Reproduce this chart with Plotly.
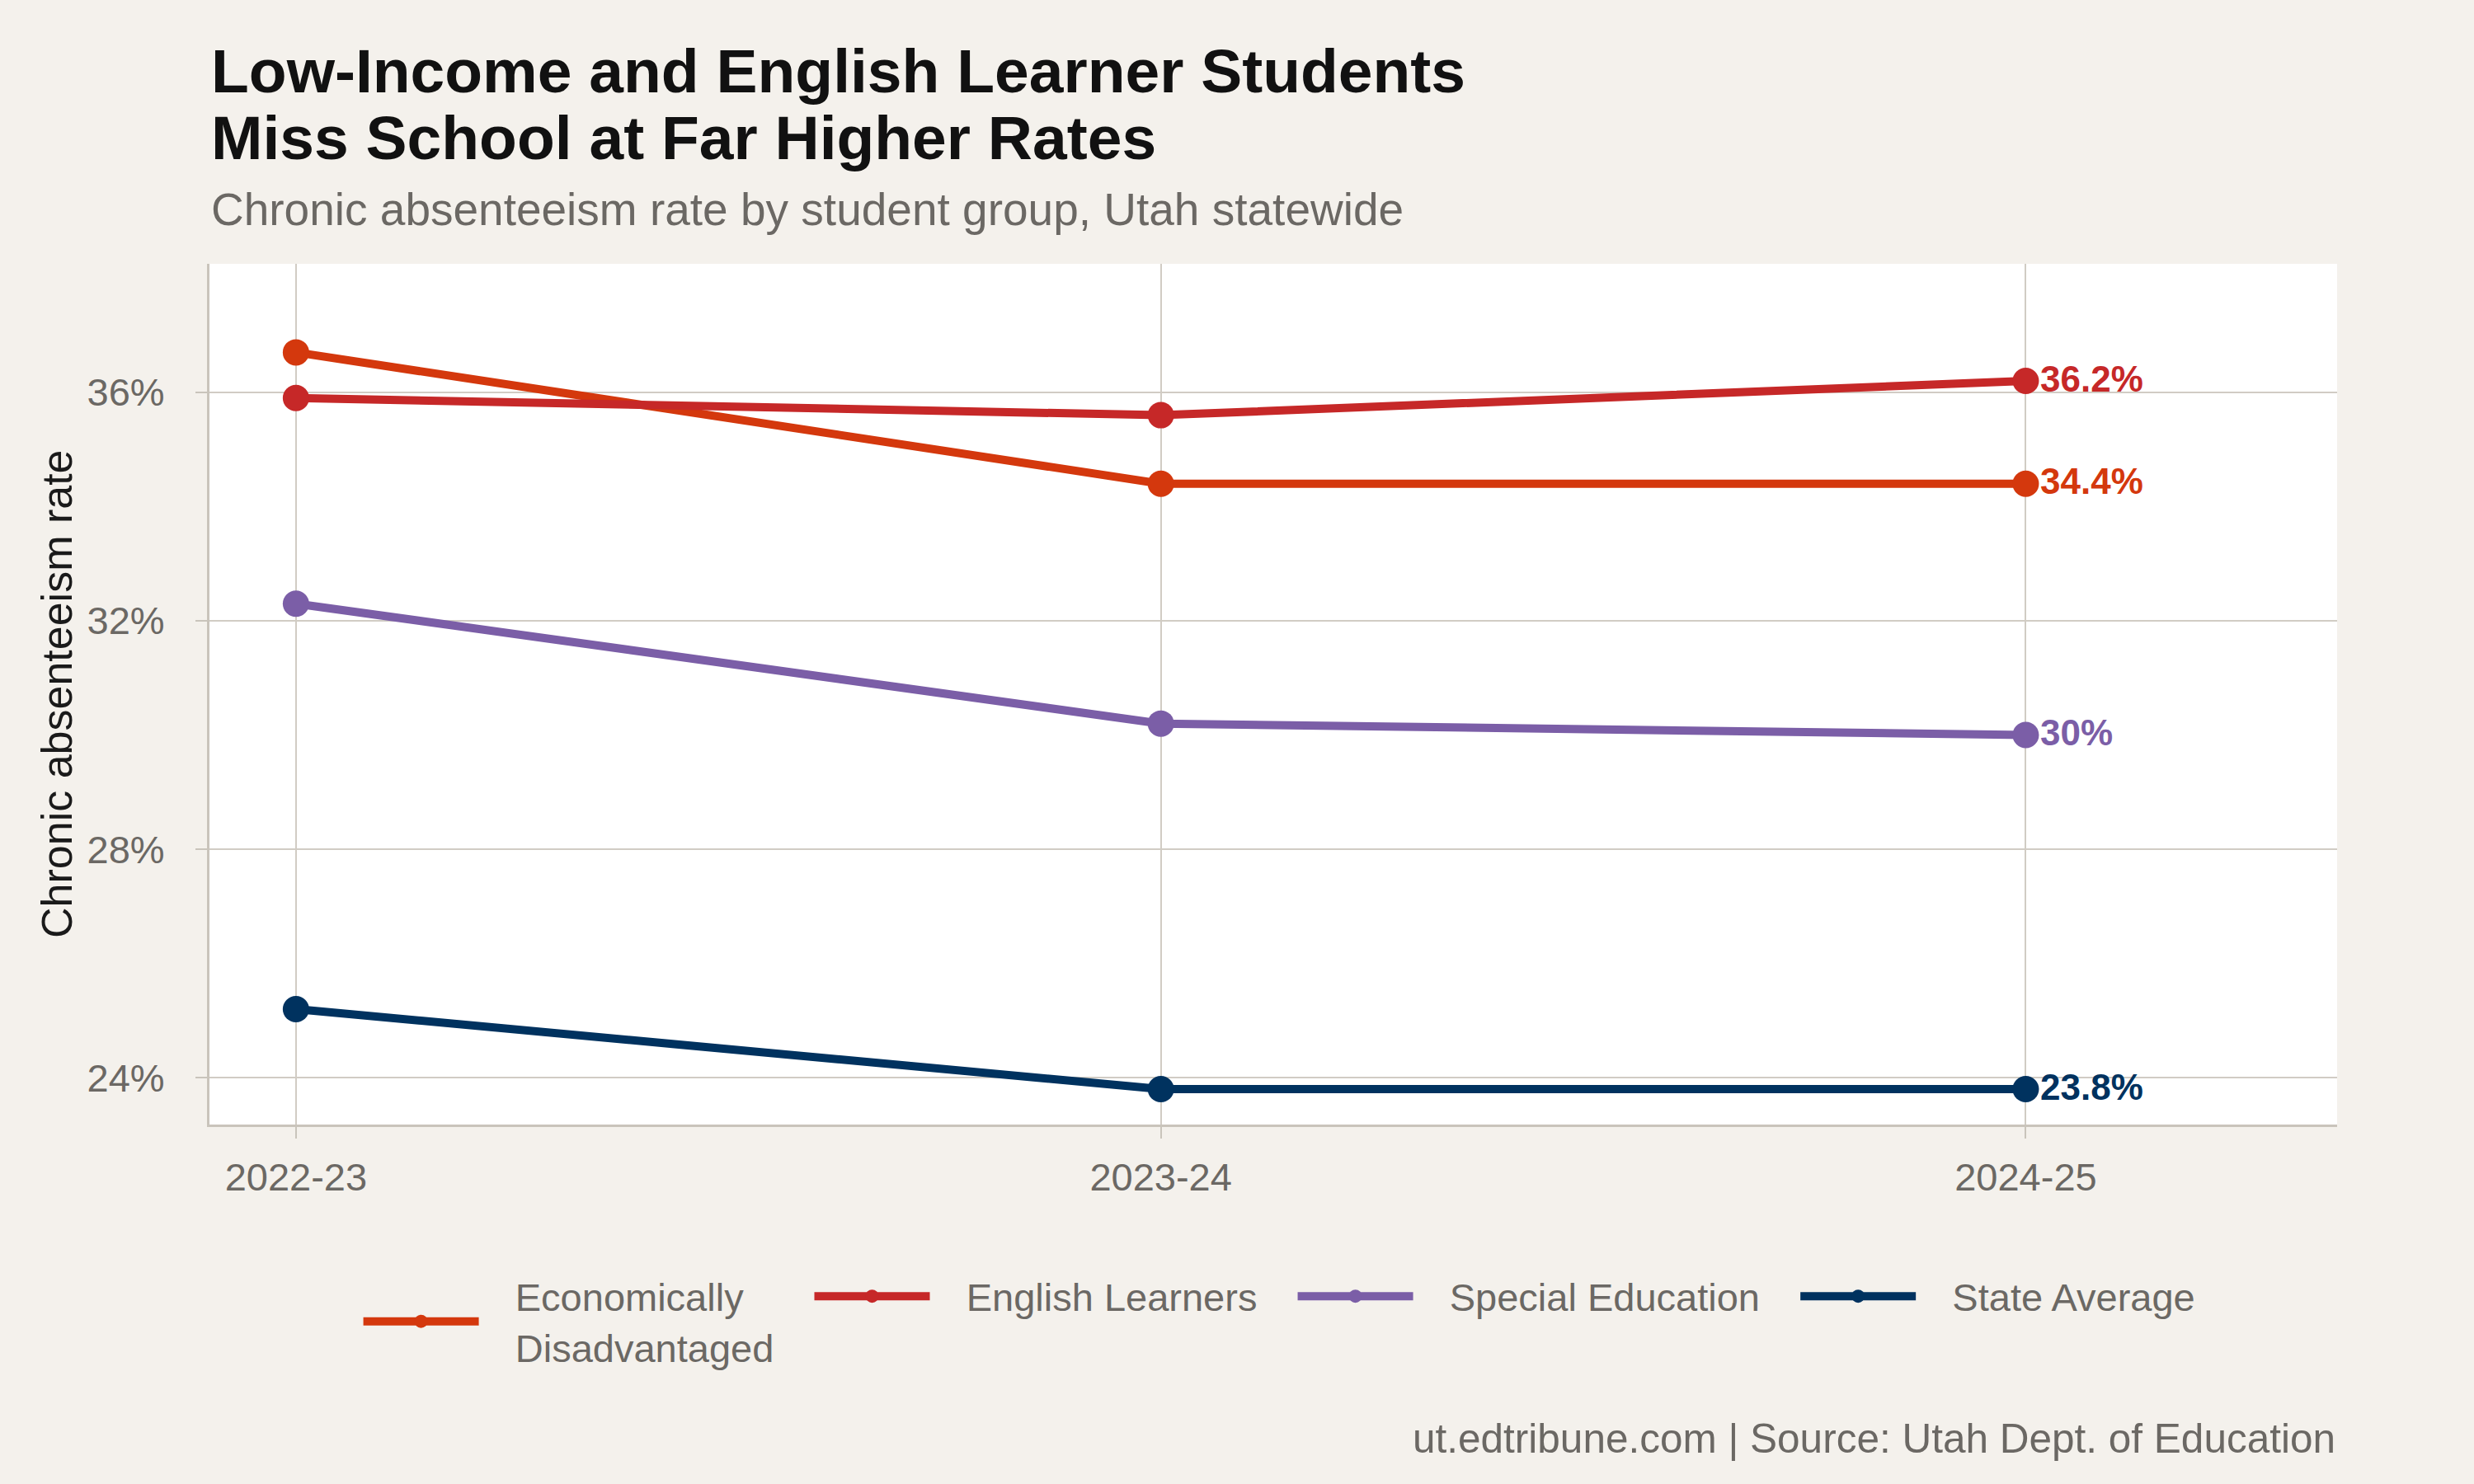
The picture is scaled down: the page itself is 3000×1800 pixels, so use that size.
import plotly.graph_objects as go

years = ["2022-23", "2023-24", "2024-25"]
series_names = ["Economically Disadvantaged", "English Learners", "Special Education", "State Average"]
legend_lines = [["Economically", "Disadvantaged"], ["English Learners"], ["Special Education"], ["State Average"]]
econ = [36.7, 34.4, 34.4]
english = [35.9, 35.6, 36.2]
sped = [32.3, 30.2, 30.0]
state = [25.2, 23.8, 23.8]
end_labels = ["34.4%", "36.2%", "30%", "23.8%"]
colors = ["#D4380D", "#C62828", "#7B5EA7", "#00325F"]
y_ticks = [24, 28, 32, 36]
y_ticktext = ["24%", "28%", "32%", "36%"]

values = [econ, english, sped, state]
FONT = "Liberation Sans, Arial, Helvetica, sans-serif"
BG = "#F4F1EC"
GRID = "#D1CCC4"
GRAY = "#6B6864"
PAD = "&nbsp;" * 3


def legend_name(lines):
    txt = "<br>".join(PAD + ln for ln in lines)
    return txt + PAD


fig = go.Figure()
for name, lines, vals, col in zip(series_names, legend_lines, values, colors):
    fig.add_trace(go.Scatter(
        x=years, y=vals, mode="lines+markers", name=legend_name(lines),
        line=dict(color=col, width=10),
        marker=dict(color=col, size=32),
    ))

annotations = []
for vals, col, lab in zip(values, colors, end_labels):
    annotations.append(dict(
        x=years[-1], y=vals[-1], xref="x", yref="y", text="<b>" + lab + "</b>",
        showarrow=False, xanchor="left", yanchor="middle", xshift=16, yshift=3,
        font=dict(family=FONT, size=44, color=col),
    ))

annotations += [
    dict(x=0, y=1.2241, xref="paper", yref="paper", xanchor="left", yanchor="middle",
         text="<b>Low-Income and English Learner Students</b>", showarrow=False,
         font=dict(family=FONT, size=75, color="#111111")),
    dict(x=0, y=1.1466, xref="paper", yref="paper", xanchor="left", yanchor="middle",
         text="<b>Miss School at Far Higher Rates</b>", showarrow=False,
         font=dict(family=FONT, size=75, color="#111111")),
    dict(x=0, y=1.0632, xref="paper", yref="paper", xanchor="left", yanchor="middle",
         text="Chronic absenteeism rate by student group, Utah statewide", showarrow=False,
         font=dict(family=FONT, size=55, color=GRAY)),
    dict(x=1, y=-0.3649, xref="paper", yref="paper", xanchor="right", yanchor="middle",
         text="ut.edtribune.com | Source: Utah Dept. of Education", showarrow=False,
         font=dict(family=FONT, size=49.5, color=GRAY)),
    dict(x=0, y=0.5, xref="paper", yref="paper", xanchor="center", yanchor="middle",
         xshift=-185, textangle=-90, text="Chronic absenteeism rate", showarrow=False,
         font=dict(family=FONT, size=52, color="#1A1A1A")),
]

fig.update_layout(
    width=3000, height=1800,
    paper_bgcolor=BG, plot_bgcolor="#FFFFFF",
    margin=dict(l=254, r=166, t=320, b=436),
    showlegend=True,
    legend=dict(
        orientation="h", x=0.5105, xanchor="center", y=-0.229, yanchor="middle",
        font=dict(family=FONT, size=47, color=GRAY), bgcolor="rgba(0,0,0,0)",
        itemwidth=140, tracegroupgap=0,
    ),
    annotations=annotations,
    xaxis=dict(
        type="category", range=[-0.1, 2.36], showgrid=True, gridcolor=GRID, gridwidth=2,
        showline=True, linecolor="#C9C4BB", linewidth=3,
        ticks="outside", ticklen=14, tickwidth=2, tickcolor="#C9C4BB",
        tickfont=dict(family=FONT, size=47, color=GRAY), ticklabelstandoff=7,
        zeroline=False,
    ),
    yaxis=dict(
        range=[23.18, 38.25], tickvals=y_ticks, ticktext=y_ticktext,
        showgrid=True, gridcolor=GRID, gridwidth=2,
        showline=True, linecolor="#C9C4BB", linewidth=3,
        ticks="outside", ticklen=14, tickwidth=2, tickcolor="#C9C4BB",
        tickfont=dict(family=FONT, size=47, color=GRAY), ticklabelstandoff=28,
        zeroline=False,
    ),
)

fig.write_html("out.html")
